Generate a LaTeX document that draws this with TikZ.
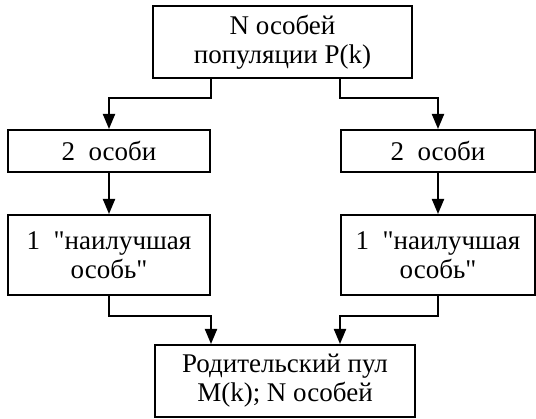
\documentclass[tikz,border=0pt]{standalone}
\usepackage{fontspec}
% keep plain " as a straight quote
\setmainfont{Liberation Serif}[Ligatures=TeXOff]
\usepackage{tikz}
\usetikzlibrary{arrows.meta}

\begin{document}
\begin{tikzpicture}[x=1pt, y=-1pt]
  \tikzstyle{box}=[draw, line width=2pt, inner sep=0pt, align=center,
  font=\fontsize{27}{29}\selectfont]
  \tikzstyle{arr}=[line width=2pt, -{Triangle[width=12pt, length=15pt]}]

  \useasboundingbox (0,0) rectangle (536,419);

  \node (pop) at (282.5,42) [box, minimum width=259pt, minimum height=72pt]
  {N особей\\популяции P(k)};

  \node (twoL) at (109,151) [box, minimum width=202pt, minimum height=42pt] {2~~особи};
  \node (twoR) at (438,151) [box, minimum width=194pt, minimum height=42pt] {2~~особи};

  \node (bestL) at (109,255) [box, minimum width=202pt, minimum height=80pt]
  {1~~"наилучшая\\особь"};
  \node (bestR) at (438,255) [box, minimum width=194pt, minimum height=80pt]
  {1~~"наилучшая\\особь"};

  \node (pool) at (285,381) [box, minimum width=260pt, minimum height=72pt]
  {Родительский пул\\M(k); N особей};

  \draw[arr] (pop.south -| twoL.east) -- ++(0,19) -| (twoL.north);
  \draw[arr] (pop.south -| twoR.west) -- ++(0,19) -| (twoR.north);

  \draw[arr] (twoL.south) -- (bestL.north);
  \draw[arr] (twoR.south) -- (bestR.north);

  \draw[arr] (bestL.south) -- ++(0,20) -| (pool.north -| bestL.east);
  \draw[arr] (bestR.south) -- ++(0,20) -| (pool.north -| bestR.west);

\end{tikzpicture}
\end{document}
